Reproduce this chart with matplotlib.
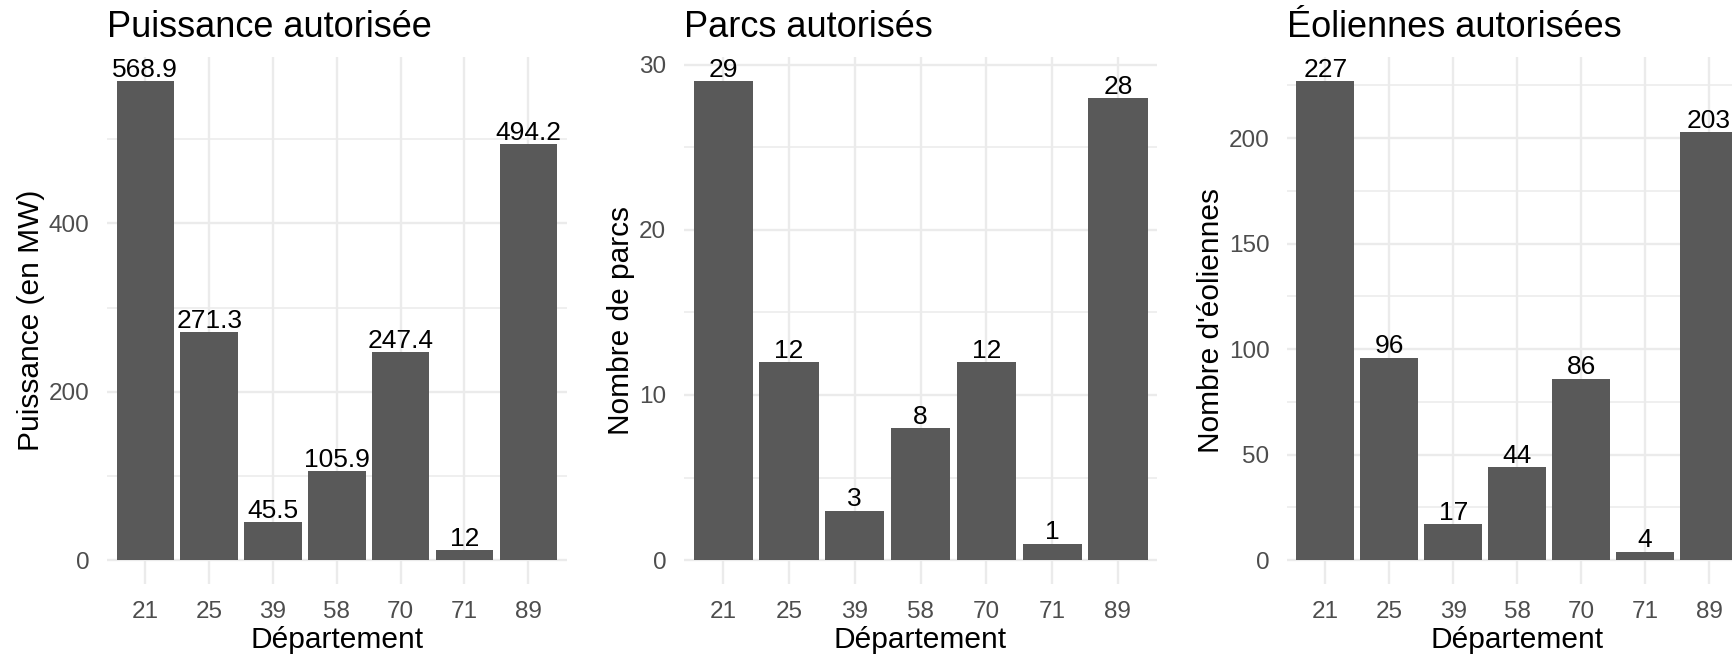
import matplotlib
matplotlib.use("Agg")
import matplotlib.pyplot as plt
from matplotlib.ticker import FixedLocator

plt.rcParams['font.family'] = ['Liberation Sans', 'DejaVu Sans']

departements = ["21", "25", "39", "58", "70", "71", "89"]
puissance = [568.9, 271.3, 45.5, 105.9, 247.4, 12, 494.2]
parcs = [29, 12, 3, 8, 12, 1, 28]
eoliennes = [227, 96, 17, 44, 86, 4, 203]

titles = ["Puissance autorisée", "Parcs autorisés", "Éoliennes autorisées"]
ylabels = ["Puissance (en MW)", "Nombre de parcs", "Nombre d'éoliennes"]
xlabel = "Département"
major_ticks = [[0, 200, 400], [0, 10, 20, 30], [0, 50, 100, 150, 200]]
minor_ticks = [[100, 300, 500], [5, 15, 25], [25, 75, 125, 175, 225]]
series = [puissance, parcs, eoliennes]

W, H = 1733, 661
fig = plt.figure(figsize=(W / 100, H / 100), dpi=100)
fig.patch.set_facecolor("white")

bottom = 1 - 584.0 / H
top = 1 - 57.3 / H
lefts_px = [107.0, 683.7, 1286.9]
rights_px = [566.6, 1157.4, 1747.5]

BAR = "#595959"
GRID = "#EBEBEB"
TICKC = "#4D4D4D"

for i in range(3):
    l = lefts_px[i] / W
    w = (rights_px[i] - lefts_px[i]) / W
    ax = fig.add_axes([l, bottom, w, top - bottom])
    vals = series[i]
    x = list(range(len(departements)))
    ax.bar(x, vals, width=0.9, color=BAR, zorder=2)
    vmax = max(vals)
    ax.set_ylim(-0.05 * vmax, 1.05 * vmax)
    ax.set_xlim(-0.6, len(departements) - 0.4)
    ax.set_xticks(x)
    ax.set_xticklabels(departements)
    ax.yaxis.set_major_locator(FixedLocator(major_ticks[i]))
    ax.yaxis.set_minor_locator(FixedLocator(minor_ticks[i]))
    ax.set_yticklabels([str(t) for t in major_ticks[i]])
    for s in ax.spines.values():
        s.set_visible(False)
    ax.grid(True, which="major", color=GRID, linewidth=1.7, zorder=0)
    ax.grid(True, which="minor", axis="y", color=GRID, linewidth=1.1, zorder=0)
    ax.set_axisbelow(True)
    ax.tick_params(axis="both", which="both", length=0, pad=12.5,
                   labelsize=17.5, labelcolor=TICKC)
    for xi, v in zip(x, vals):
        ax.annotate(f"{v:g}", (xi, v), xytext=(0, 3), textcoords="offset points",
                    ha="center", va="baseline", fontsize=19, color="black")
    ax.set_title(titles[i], loc="left", fontsize=26, pad=14.4, color="black")
    ax.set_xlabel(xlabel, fontsize=21.5, labelpad=2, color="black")
    ax.set_ylabel(ylabels[i], fontsize=21.5, labelpad=3, color="black")

fig.savefig("out.png", dpi=100, facecolor="white")
